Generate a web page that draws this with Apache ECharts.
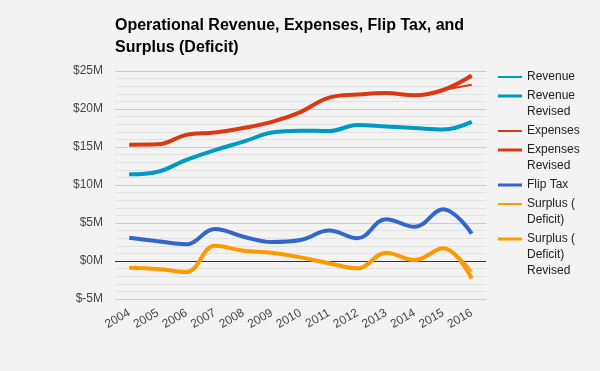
<!DOCTYPE html>
<html><head><meta charset="utf-8">
<script src="https://cdn.jsdelivr.net/npm/echarts@6/dist/echarts.min.js"></script>
<style>html,body{margin:0;padding:0;background:#f3f3f3;}#c{width:600px;height:371px;}</style>
</head><body><div id="c"></div>
<script>
const years = ['2004','2005','2006','2007','2008','2009','2010','2011','2012','2013','2014','2015','2016'];
const revenue = [11.4, 11.75, 13.3, 14.6, 15.7, 16.9, 17.15, 17.1, 17.9, 17.7, 17.5, 17.3, 18.3];
const revenueRevised = [11.4, 11.75, 13.3, 14.6, 15.7, 16.9, 17.15, 17.1, 17.9, 17.7, 17.5, 17.3, 18.3];
const expenses = [15.3, 15.35, 16.6, 16.9, 17.5, 18.3, 19.6, 21.5, 21.9, 22.1, 21.8, 22.5, 23.2];
const expensesRevised = [15.3, 15.35, 16.6, 16.9, 17.5, 18.3, 19.6, 21.5, 21.9, 22.1, 21.8, 22.5, 24.4];
const flipTax = [3.07, 2.6, 2.2, 4.2, 3.2, 2.5, 2.76, 4.0, 3.0, 5.5, 4.5, 6.8, 3.6];
const surplus = [-0.88, -1.05, -1.45, 2.0, 1.36, 1.1, 0.48, -0.3, -0.97, 1.1, 0.13, 1.67, -1.4];
const surplusRevised = [-0.88, -1.05, -1.45, 2.0, 1.36, 1.1, 0.48, -0.3, -0.97, 1.1, 0.13, 1.67, -2.3];
const yTickValues = [-5, 0, 5, 10, 15, 20, 25];

const seriesDefs = [
  {name: 'Revenue', label: 'Revenue', data: revenue, color: '#0099c6', width: 2},
  {name: 'Revenue Revised', label: 'Revenue\nRevised', data: revenueRevised, color: '#0099c6', width: 4},
  {name: 'Expenses', label: 'Expenses', data: expenses, color: '#dc3912', width: 2},
  {name: 'Expenses Revised', label: 'Expenses\nRevised', data: expensesRevised, color: '#dc3912', width: 4},
  {name: 'Flip Tax', label: 'Flip Tax', data: flipTax, color: '#3366cc', width: 4},
  {name: 'Surplus (Deficit)', label: 'Surplus (\nDeficit)', data: surplus, color: '#ff9900', width: 2},
  {name: 'Surplus (Deficit) Revised', label: 'Surplus (\nDeficit)\nRevised', data: surplusRevised, color: '#ff9900', width: 4}
];
const legendTops = [69, 88, 123, 142, 177, 196, 231];

const legends = seriesDefs.map((s, i) => {
  const n = s.label.split('\n').length;
  const h = 16 * n;
  const half = s.width === 2 ? 1 : 1.6;
  const icon = 'path://M0,0L0.01,0M0,' + (8 - half) + 'L24,' + (8 - half) + 'L24,' + (8 + half) + 'L0,' + (8 + half) + 'ZM0,' + h + 'L0.01,' + h;
  return {
    orient: 'vertical', left: 498, top: legendTops[i], padding: 0,
    itemWidth: 24, itemHeight: h, selectedMode: false,
    data: [{name: s.name, icon: icon}],
    formatter: () => s.label,
    itemStyle: {borderWidth: 0},
    textStyle: {fontFamily: 'Liberation Sans, Arial', fontSize: 12, lineHeight: 16, color: '#222'}
  };
});

const chart = echarts.init(document.getElementById('c'), null, {renderer: 'canvas'});
chart.setOption({
  animation: false,
  backgroundColor: '#f3f3f3',
  title: {
    text: 'Operational Revenue, Expenses, Flip Tax, and\nSurplus (Deficit)',
    left: 115, top: 15, padding: 0,
    textStyle: {fontFamily: 'Liberation Sans, Arial', fontSize: 16, fontWeight: 'bold', lineHeight: 22, color: '#000'}
  },
  legend: legends,
  grid: {left: 115, right: 114, top: 71, bottom: 72, containLabel: false},
  xAxis: {
    type: 'category', data: years, boundaryGap: true,
    axisLine: {show: false}, axisTick: {show: false},
    axisLabel: {rotate: 30, margin: 13, fontFamily: 'Liberation Sans, Arial', fontSize: 12, color: '#444', interval: 0}
  },
  yAxis: {
    type: 'value', min: yTickValues[0], max: yTickValues[yTickValues.length - 1], interval: 5,
    axisLine: {show: false}, axisTick: {show: false},
    axisLabel: {margin: 12, fontFamily: 'Liberation Sans, Arial', fontSize: 12, color: '#444', formatter: v => '$' + v + 'M'},
    splitLine: {show: true, lineStyle: {color: yTickValues.map(v => v === 0 ? '#333333' : '#cccccc'), width: 1}},
    minorTick: {show: false, splitNumber: 5},
    minorSplitLine: {show: true, lineStyle: {color: '#e2e2e2', width: 1}}
  },
  series: seriesDefs.map(s => ({
    name: s.name, type: 'line', data: s.data, smooth: 0.4, symbol: 'none',
    color: s.color,
    lineStyle: {color: s.color, width: s.width},
    itemStyle: {color: s.color}
  }))
});
</script></body></html>
